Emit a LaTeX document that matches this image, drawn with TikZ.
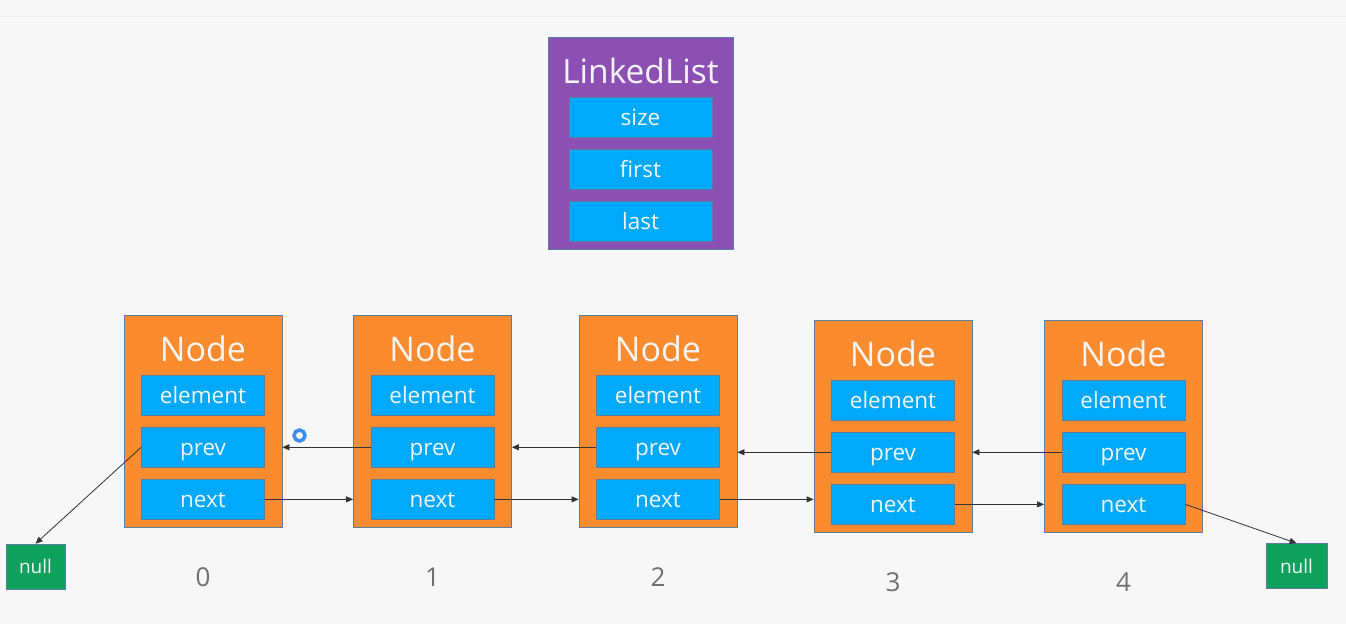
\documentclass[tikz,border=0pt]{standalone}
\usepackage{fontspec}
\setsansfont{Open Sans}
\usetikzlibrary{arrows.meta, positioning, calc}

\definecolor{pagebg}{HTML}{F7F7F7}
\definecolor{boxline}{HTML}{5B7CA3}
\definecolor{listpurple}{HTML}{8C50B5}
\definecolor{nodeorange}{HTML}{FA8B2E}
\definecolor{fieldblue}{HTML}{00A9FA}
\definecolor{nullgreen}{HTML}{0EA15C}
\definecolor{idxgray}{HTML}{707070}
\definecolor{clickblue}{HTML}{3D8EE8}

\tikzset{
  outerbox/.style={draw=boxline, line width=0.8pt, minimum height=212pt,
                   inner sep=0pt},
  field/.style={draw=boxline, line width=0.6pt, fill=fieldblue,
                text=white!96!black, font=\sffamily\fontsize{22.5}{22.5}\selectfont,
                text height=16pt, text depth=0pt,
                minimum width=123pt, minimum height=40.5pt, inner sep=0pt},
  boxtitle/.style={text=white!96!black, inner sep=0pt},
  nullbox/.style={draw=boxline, line width=0.6pt, fill=nullgreen,
                  text=white!96!black, font=\sffamily\fontsize{19}{19}\selectfont,
                  text height=14pt, text depth=0pt,
                  minimum height=45pt, inner sep=0pt},
  link/.style={-{Triangle[length=7pt, width=6pt]}, draw=black!80,
               line width=0.8pt}
}

\begin{document}
\begin{tikzpicture}[x=1pt, y=-1pt, node distance=11pt]
  \fill[pagebg] (0,0) rectangle (1346,624);
  \useasboundingbox (0,0) rectangle (1346,624);
  \draw[black!7, line width=1pt] (0,16.5) -- (1346,16.5);

  % the list object
  \node[outerbox, fill=listpurple, minimum width=185pt] (list) at (640.5,143) {};
  \node[boxtitle, anchor=base, font=\sffamily\fontsize{33.5}{33.5}\selectfont]
    (listtitle) at ($(list.north)+(0,46.5)$) {LinkedList};
  \node[field, minimum width=143pt, below=60pt of list.north] (size) {size};
  \node[field, minimum width=143pt, below=of size] (first) {first};
  \node[field, minimum width=143pt, below=of first] (last) {last};

  % the five nodes
  \foreach \i/\x/\y in {0/203/421, 1/432.5/421, 2/658/421, 3/893/426, 4/1123.5/426} {
    \node[outerbox, fill=nodeorange, minimum width=158pt] (n\i) at (\x,\y) {};
    \node[boxtitle, anchor=base, font=\sffamily\fontsize{34}{34}\selectfont]
      (t\i) at ($(n\i.north)+(0,47)$) {Node};
    \node[field, below=60pt of n\i.north] (e\i) {element};
    \node[field, below=of e\i] (p\i) {prev};
    \node[field, below=of p\i] (x\i) {next};
    \node[anchor=base, text=idxgray, font=\sffamily\fontsize{26}{26}\selectfont]
      (idx\i) at ($(n\i.south)+(0,59)$) {\i};
  }

  \node[nullbox, minimum width=59pt] (nullL) at (35.5,566.5) {null};
  \node[nullbox, minimum width=61pt] (nullR) at (1296.5,566) {null};

  % links between nodes
  \foreach \a/\b in {0/1, 1/2, 2/3, 3/4} {
    \draw[link] (x\a.east) -- (x\a.east -| n\b.west);
    \draw[link] (p\b.west) -- (p\b.west -| n\a.east);
  }
  \draw[link] (p0.west) -- (nullL.north);
  \draw[link] (x4.east) -- (nullR.north);

  \node[draw=clickblue, line width=3.5pt, circle, minimum size=11pt,
        inner sep=0pt] (click) at (299.5,435.5) {};
\end{tikzpicture}
\end{document}
